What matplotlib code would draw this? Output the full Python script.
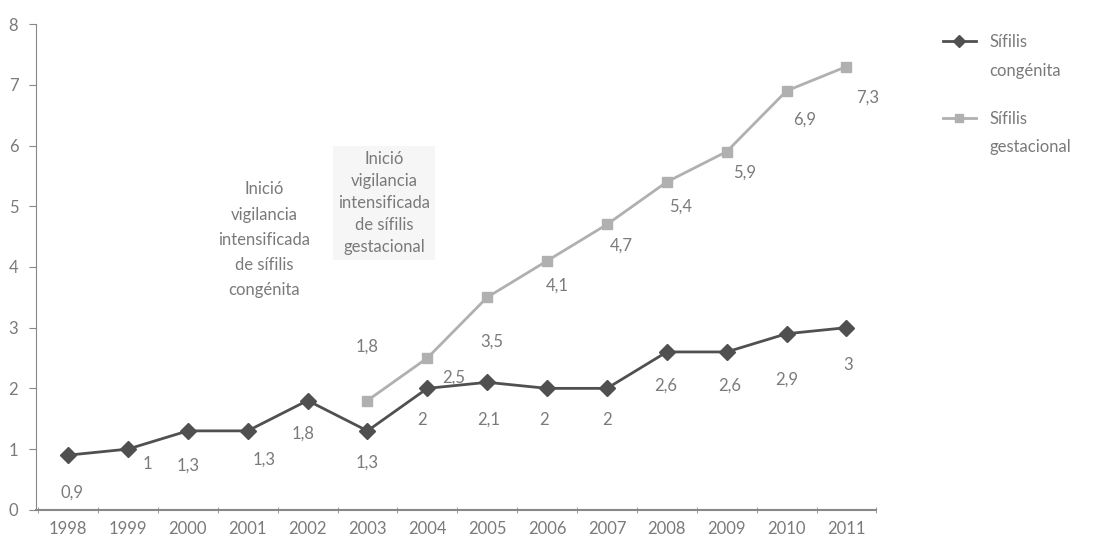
import matplotlib
matplotlib.use("Agg")
import matplotlib.pyplot as plt
from matplotlib.ticker import FixedLocator
from matplotlib.lines import Line2D

plt.rcParams['font.family'] = ['Lato', 'DejaVu Sans']

years = ['1998', '1999', '2000', '2001', '2002', '2003', '2004',
         '2005', '2006', '2007', '2008', '2009', '2010', '2011']
congenita = [0.9, 1, 1.3, 1.3, 1.8, 1.3, 2, 2.1, 2, 2, 2.6, 2.6, 2.9, 3]
gest_years = years[5:]
gestacional = [1.8, 2.5, 3.5, 4.1, 4.7, 5.4, 5.9, 6.9, 7.3]

# label offsets in points (dx, dy)
off_cong = [(3, -27), (14, -11), (0, -25), (12, -21), (-3, -24), (0, -23), (-4, -23),
            (1, -27), (-2, -23), (0, -23), (-1, -24), (2, -24), (0, -33), (1, -27)]
off_gest = [(0, 39), (19, -14), (3, -32), (7, -18), (10, -15), (10, -18), (13, -15),
            (13, -21), (15, -22)]

txt = '#7a7a7a'
c_dark = '#505050'
c_light = '#b0b0b0'

fig = plt.figure(figsize=(11.01, 5.47), dpi=100)
ax = fig.add_axes([0.033, 0.068, 0.763, 0.888])

xc = list(range(len(years)))
xg = xc[5:]
l1, = ax.plot(xc, congenita, color=c_dark, lw=2, marker='D', ms=8)
l2, = ax.plot(xg, gestacional, color=c_light, lw=2, marker='s', ms=7)

for x, v, (dx, dy) in zip(xc, congenita, off_cong):
    ax.annotate(f'{v:g}'.replace('.', ','), (x, v), xytext=(dx, dy), textcoords='offset points',
                ha='center', va='center', fontsize=12, color=txt)
for x, v, (dx, dy) in zip(xg, gestacional, off_gest):
    ax.annotate(f'{v:g}'.replace('.', ','), (x, v), xytext=(dx, dy), textcoords='offset points',
                ha='center', va='center', fontsize=12, color=txt)

ax.text(3.28, 4.45, 'Inició\nvigilancia\nintensificada\nde sífilis\ncongénita',
        ha='center', va='center', fontsize=12, color=txt, linespacing=1.7)
ax.text(5.28, 5.05, 'Inició\nvigilancia\nintensificada\nde sífilis\ngestacional',
        ha='center', va='center', fontsize=12, color=txt, linespacing=1.45,
        bbox=dict(boxstyle='square,pad=0.3', fc='#f6f6f6', ec='none'))

ax.set_xlim(-0.53, 13.5)
ax.set_ylim(0, 8)
ax.set_yticks(range(9))
ax.set_xticks(xc)
ax.set_xticklabels(years)
ax.xaxis.set_minor_locator(FixedLocator([i - 0.5 for i in range(15)]))
ax.tick_params(axis='x', which='major', length=0, pad=8, labelsize=12, labelcolor=txt)
ax.tick_params(axis='x', which='minor', length=5, color='#888888', direction='inout')
ax.tick_params(axis='y', length=5, color='#888888', labelsize=12, labelcolor=txt, pad=8)
for s in ['top', 'right']:
    ax.spines[s].set_visible(False)
for s in ['left', 'bottom']:
    ax.spines[s].set_color('#888888')
ax.spines['bottom'].set_linewidth(1.5)

blank = Line2D([], [], color='none')
leg_kw = dict(loc='upper left', frameon=False, fontsize=12, labelcolor=txt,
              handlelength=2.0, labelspacing=0.75, markerscale=0.8, borderaxespad=0)
leg1 = fig.legend([l1, blank], ['Sífilis', 'congénita'], bbox_to_anchor=(0.85, 0.95), **leg_kw)
leg2 = fig.legend([l2, blank], ['Sífilis', 'gestacional'], bbox_to_anchor=(0.85, 0.81), **leg_kw)

fig.savefig('out.png', dpi=100)
